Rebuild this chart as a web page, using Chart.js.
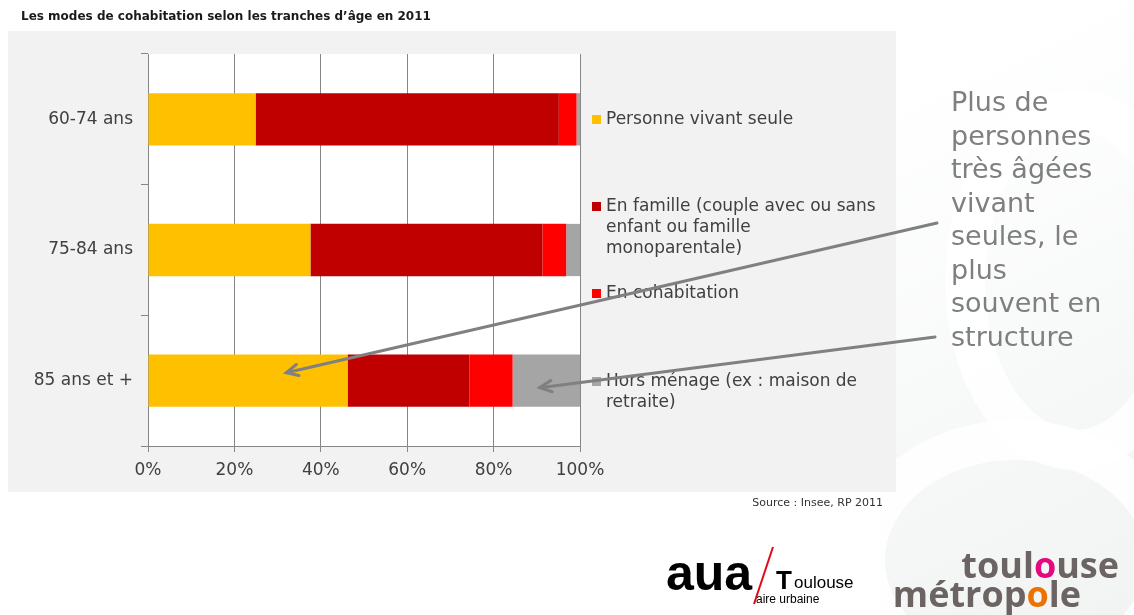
<!DOCTYPE html>
<html>
<head>
<meta charset="utf-8">
<script src="https://cdn.jsdelivr.net/npm/chart.js@4.4.0/dist/chart.umd.min.js"></script>
<style>
  html, body { margin: 0; padding: 0; background: #ffffff; }
  #wrap { position: relative; width: 1134px; height: 615px; overflow: hidden; }
  canvas { display: block; }
</style>
</head>
<body>
<div id="wrap"><canvas id="c" width="1134" height="615"></canvas></div>
<script>
// ---- Data ----
const categories = ["60-74 ans", "75-84 ans", "85 ans et +"];
const seriesNames = [
  "Personne vivant seule",
  "En famille (couple avec ou sans enfant ou famille monoparentale)",
  "En cohabitation",
  "Hors ménage (ex : maison de retraite)"
];
const seule   = [24.9, 37.6, 46.2];
const famille = [70.2, 53.7, 28.2];
const cohab   = [4.1, 5.5, 10.0];
const hors    = [0.8, 3.2, 15.6];
const xTicks  = [0, 20, 40, 60, 80, 100];
const legendLines = [
  ["Personne vivant seule"],
  ["En famille (couple avec ou sans", "enfant ou famille", "monoparentale)"],
  ["En cohabitation"],
  ["Hors ménage (ex : maison de", "retraite)"]
];
const titleText = "Les modes de cohabitation selon les tranches d’âge en 2011";
const noteLines = ["Plus de", "personnes", "très âgées", "vivant", "seules, le", "plus", "souvent en", "structure"];
const sourceText = "Source : Insee, RP 2011";

const colors = ["#FFC000", "#C00000", "#FF0000", "#A5A5A5"];
const FONT = "'DejaVu Sans', Verdana, sans-serif";

function arrow(ctx, x1, y1, x2, y2) {
  ctx.save();
  ctx.strokeStyle = "#808080";
  ctx.lineWidth = 3;
  ctx.lineCap = "round";
  ctx.beginPath();
  ctx.moveTo(x1, y1);
  ctx.lineTo(x2, y2);
  ctx.stroke();
  const a = Math.atan2(y2 - y1, x2 - x1);
  const L = 13, w = 0.45;
  ctx.beginPath();
  ctx.moveTo(x2 - L * Math.cos(a - w), y2 - L * Math.sin(a - w));
  ctx.lineTo(x2, y2);
  ctx.lineTo(x2 - L * Math.cos(a + w), y2 - L * Math.sin(a + w));
  ctx.stroke();
  ctx.restore();
}

function pieces(ctx, parts, xRight, y) {
  let total = 0;
  parts.forEach(p => total += ctx.measureText(p[0]).width);
  let x = xRight - total;
  ctx.textAlign = "left";
  parts.forEach(p => {
    ctx.fillStyle = p[1];
    ctx.fillText(p[0], x, y);
    x += ctx.measureText(p[0]).width;
  });
}

const decor = {
  id: "decor",
  beforeDraw(chart) {
    const ctx = chart.ctx;
    const ca = chart.chartArea;
    ctx.save();
    const g = ctx.createLinearGradient(880, 100, 1134, 615);
    g.addColorStop(0, "#ffffff");
    g.addColorStop(1, "#f1f4f3");
    ctx.fillStyle = g;
    ctx.fillRect(880, 0, 254, 615);
    ctx.strokeStyle = "rgba(255,255,255,0.85)";
    ctx.lineWidth = 40;
    ctx.beginPath();
    ctx.ellipse(1075, 280, 110, 170, 0, 0, Math.PI * 2);
    ctx.stroke();
    ctx.beginPath();
    ctx.ellipse(1015, 560, 150, 120, 0, 0, Math.PI * 2);
    ctx.stroke();
    ctx.fillStyle = "#F2F2F2";
    ctx.fillRect(8, 31, 888, 461);
    ctx.fillStyle = "#FFFFFF";
    ctx.fillRect(ca.left, ca.top, ca.right - ca.left, ca.bottom - ca.top);
    ctx.restore();
  },
  afterDraw(chart) {
    const ctx = chart.ctx;
    const xs = chart.scales.x, ys = chart.scales.y;
    ctx.save();
    ctx.fillStyle = "#1a1a1a";
    ctx.font = "bold 12px " + FONT;
    ctx.textBaseline = "middle";
    ctx.textAlign = "left";
    ctx.fillText(titleText, 21, 17);
    const legTop = [120, 207, 294, 382];
    ctx.font = "17px " + FONT;
    legendLines.forEach((lines, i) => {
      ctx.fillStyle = colors[i];
      ctx.fillRect(592, legTop[i] - 5, 9, 9);
      ctx.fillStyle = "#404040";
      lines.forEach((t, j) => ctx.fillText(t, 606, legTop[i] + j * 21));
    });
    ctx.font = "11px " + FONT;
    ctx.textAlign = "right";
    ctx.fillStyle = "#333333";
    ctx.fillText(sourceText, 883, 503);
    ctx.textAlign = "left";
    ctx.font = "27px " + FONT;
    ctx.fillStyle = "#7F7F7F";
    noteLines.forEach((t, i) => ctx.fillText(t, 951, 104 + i * 33.5));
    arrow(ctx, 937, 223, xs.getPixelForValue(32), ys.getPixelForValue(2) - 8);
    arrow(ctx, 935, 337, xs.getPixelForValue(90.7), ys.getPixelForValue(2) + 7);

    ctx.fillStyle = "#ffffff";
    ctx.fillRect(650, 538, 223, 72);
    ctx.fillStyle = "#000000";
    ctx.font = "bold 50px 'Liberation Sans', Arial, sans-serif";
    ctx.textAlign = "left";
    ctx.textBaseline = "alphabetic";
    ctx.fillText("aua", 666, 590);
    ctx.strokeStyle = "#E30613";
    ctx.lineWidth = 2;
    ctx.beginPath();
    ctx.moveTo(754, 604);
    ctx.lineTo(773, 547);
    ctx.stroke();
    ctx.font = "bold 26px 'Liberation Sans', Arial, sans-serif";
    ctx.fillText("T", 776, 589);
    ctx.font = "17px 'Liberation Sans', Arial, sans-serif";
    ctx.fillText("oulouse", 794, 588);
    ctx.font = "12px 'Liberation Sans', Arial, sans-serif";
    ctx.fillText("aire urbaine", 756, 603);

    ctx.font = "bold 36px 'Open Sans', 'DejaVu Sans', sans-serif";
    const grey = "#6B6462";
    pieces(ctx, [["toul", grey], ["o", "#E5097F"], ["use", grey]], 1119, 578);
    pieces(ctx, [["métrop", grey], ["o", "#EE7203"], ["le", grey]], 1081, 607);
    ctx.restore();
  }
};

new Chart(document.getElementById("c"), {
  type: "bar",
  data: {
    labels: categories,
    datasets: [
      { label: seriesNames[0], data: seule,   backgroundColor: colors[0] },
      { label: seriesNames[1], data: famille, backgroundColor: colors[1] },
      { label: seriesNames[2], data: cohab,   backgroundColor: colors[2] },
      { label: seriesNames[3], data: hors,    backgroundColor: colors[3] }
    ]
  },
  options: {
    indexAxis: "y",
    responsive: false,
    animation: false,
    layout: { padding: { top: 54, right: 554, bottom: 0, left: 0 } },
    datasets: { bar: { barPercentage: 0.4, categoryPercentage: 1.0, borderWidth: 0 } },
    plugins: { legend: { display: false }, title: { display: false }, tooltip: { enabled: false } },
    scales: {
      x: {
        stacked: true,
        min: 0, max: 100,
        afterBuildTicks(scale) { scale.ticks = xTicks.map(v => ({ value: v })); },
        afterFit(scale) { scale.height = 615 - 446; },
        ticks: {
          callback: v => v + "%",
          color: "#404040",
          font: { family: FONT, size: 17 },
          padding: 8,
          maxRotation: 0
        },
        grid: { color: "#868686", lineWidth: 1, tickLength: 6, drawOnChartArea: true },
        border: { color: "#868686", width: 1 }
      },
      y: {
        stacked: true,
        afterFit(scale) { scale.width = 148; },
        ticks: {
          color: "#404040",
          font: { family: FONT, size: 17 },
          padding: 8
        },
        grid: { offset: true, color: "#868686", drawOnChartArea: false, tickLength: 7 },
        border: { color: "#868686", width: 1 }
      }
    }
  },
  plugins: [decor]
});
</script>
</body>
</html>
